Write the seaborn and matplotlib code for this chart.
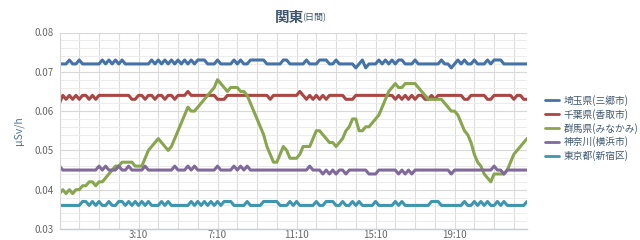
import numpy as np
import pandas as pd
import matplotlib
matplotlib.use("Agg")
import matplotlib.pyplot as plt
from matplotlib.ticker import MultipleLocator, FixedLocator
import seaborn as sns

series_names = ["埼玉県(三郷市)", "千葉県(香取市)", "群馬県(みなかみ)", "神奈川(横浜市)", "東京都(新宿区)"]
colors = ["#4572A7", "#AA4643", "#89A54E", "#80699B", "#3D96AE"]

saitama = [
    .072, .072, .072, .073, .072, .072, .073, .072, .072, .072, .072, .072,
    .072, .073, .072, .073, .072, .073, .072, .073, .072, .072, .072, .072,
    .072, .072, .072, .072, .073, .072, .073, .072, .073, .072, .073, .072,
    .073, .072, .073, .072, .073, .072, .073, .073, .073, .072, .072, .072,
    .073, .072, .072, .072, .072, .073, .072, .073, .072, .072, .073, .073,
    .073, .073, .073, .072, .072, .072, .072, .072, .073, .073, .072, .072,
    .072, .072, .072, .073, .072, .072, .072, .073, .073, .073, .072, .072,
    .073, .072, .072, .072, .072, .072, .071, .072, .073, .071, .072, .072,
    .072, .073, .072, .073, .072, .073, .072, .073, .073, .072, .072, .072,
    .073, .072, .072, .072, .072, .072, .072, .072, .073, .072, .072, .071,
    .072, .073, .072, .073, .072, .072, .073, .072, .072, .072, .073, .072,
    .073, .073, .073, .072, .072, .072, .072, .072, .072, .072, .072,
]
chiba = [
    .062, .064, .063, .064, .063, .064, .063, .064, .064, .063, .064, .063,
    .064, .064, .064, .064, .064, .064, .064, .064, .064, .064, .063, .063,
    .064, .064, .063, .064, .064, .063, .064, .064, .063, .064, .064, .063,
    .064, .064, .064, .065, .064, .064, .064, .064, .064, .064, .064, .064,
    .063, .063, .063, .064, .064, .064, .064, .064, .064, .064, .064, .064,
    .064, .064, .064, .064, .063, .064, .064, .064, .064, .064, .064, .064,
    .064, .065, .064, .063, .064, .063, .064, .063, .064, .063, .064, .064,
    .064, .064, .064, .063, .063, .063, .064, .064, .064, .064, .064, .064,
    .064, .064, .064, .064, .064, .064, .063, .064, .063, .064, .063, .064,
    .063, .064, .064, .063, .063, .064, .063, .064, .064, .064, .064, .064,
    .064, .064, .064, .063, .063, .064, .064, .064, .064, .064, .063, .063,
    .064, .064, .064, .064, .064, .064, .063, .064, .064, .063, .063,
]
gunma = [
    .039, .040, .039, .040, .039, .040, .040, .041, .041, .042, .042, .041,
    .042, .042, .043, .044, .045, .046, .046, .047, .047, .047, .047, .046,
    .046, .046, .048, .050, .051, .052, .053, .052, .051, .050, .051, .053,
    .055, .057, .059, .061, .060, .060, .061, .062, .063, .064, .065, .066,
    .068, .067, .066, .065, .066, .066, .066, .065, .065, .064, .062, .060,
    .058, .056, .054, .051, .049, .047, .047, .049, .051, .050, .048, .048,
    .048, .049, .051, .051, .051, .053, .055, .055, .054, .053, .052, .052,
    .051, .052, .053, .055, .056, .058, .058, .055, .055, .056, .056, .057,
    .058, .059, .061, .063, .065, .066, .067, .066, .066, .067, .067, .067,
    .067, .066, .065, .064, .063, .063, .063, .063, .063, .062, .061, .060,
    .060, .059, .057, .055, .054, .052, .049, .047, .046, .044, .043, .042,
    .044, .044, .044, .044, .045, .047, .049, .050, .051, .052, .053,
]
kanagawa = [
    .046, .045, .045, .045, .045, .045, .045, .045, .045, .045, .045, .045,
    .046, .045, .046, .045, .045, .045, .046, .045, .045, .046, .045, .045,
    .045, .045, .046, .045, .045, .045, .045, .045, .045, .045, .045, .046,
    .045, .045, .045, .046, .045, .046, .045, .045, .045, .045, .045, .045,
    .046, .045, .045, .045, .045, .046, .045, .046, .045, .046, .045, .045,
    .045, .045, .045, .045, .045, .045, .045, .045, .045, .045, .045, .045,
    .045, .045, .045, .045, .046, .045, .045, .045, .044, .045, .044, .045,
    .044, .045, .045, .044, .045, .045, .045, .045, .045, .045, .044, .044,
    .044, .045, .045, .045, .045, .045, .045, .044, .045, .044, .045, .044,
    .045, .045, .045, .045, .045, .045, .045, .045, .045, .045, .045, .044,
    .045, .045, .045, .045, .045, .045, .045, .045, .045, .045, .045, .045,
    .046, .045, .045, .044, .045, .045, .045, .045, .045, .045, .045,
]
tokyo = [
    .036, .036, .036, .036, .036, .036, .036, .037, .037, .036, .037, .036,
    .037, .036, .036, .037, .036, .036, .037, .037, .036, .037, .036, .037,
    .036, .037, .036, .037, .036, .036, .036, .037, .036, .037, .036, .036,
    .036, .036, .036, .036, .037, .036, .037, .036, .037, .036, .037, .036,
    .037, .036, .037, .037, .037, .036, .036, .036, .036, .037, .036, .036,
    .036, .036, .037, .037, .037, .037, .037, .036, .036, .036, .037, .036,
    .037, .036, .036, .036, .036, .036, .037, .036, .036, .037, .037, .037,
    .036, .036, .037, .036, .036, .037, .036, .037, .036, .036, .036, .036,
    .037, .036, .036, .036, .036, .036, .037, .036, .037, .036, .036, .036,
    .036, .036, .036, .036, .036, .037, .037, .037, .036, .036, .036, .036,
    .036, .036, .036, .037, .036, .036, .037, .036, .037, .036, .037, .036,
    .036, .037, .036, .037, .036, .036, .036, .036, .036, .036, .037,
]

tick_positions = [24, 48, 72, 96, 120]
tick_labels = ["3:10", "7:10", "11:10", "15:10", "19:10"]
y_ticks = [0.03, 0.04, 0.05, 0.06, 0.07, 0.08]

all_series = [saitama, chiba, gunma, kanagawa, tokyo]
frames = []
for name, vals in zip(series_names, all_series):
    frames.append(pd.DataFrame({"idx": np.arange(len(vals)), "value": vals, "area": name}))
df = pd.concat(frames, ignore_index=True)

sns.set_theme(style="white")
plt.rcParams["font.family"] = ["Noto Sans CJK JP", "DejaVu Sans"]

fig = plt.figure(figsize=(6.4, 2.4), dpi=100)
ax = fig.add_axes([59.5 / 640, 1 - 229 / 240, (527 - 59.5) / 640, (229 - 32.5) / 240])

sns.lineplot(data=df, x="idx", y="value", hue="area", hue_order=series_names,
             palette=colors, linewidth=2.2, ax=ax, legend=True)

n = len(saitama)
ax.set_xlim(0, n - 1)
ax.set_ylim(0.03, 0.08)
ax.set_yticks(y_ticks)
ax.set_yticklabels([f"{v:.2f}" for v in y_ticks])
ax.yaxis.set_minor_locator(MultipleLocator(0.002))
ax.set_xticks(tick_positions)
ax.set_xticklabels(tick_labels)
ax.xaxis.set_minor_locator(FixedLocator(list(range(0, n, 6))))

ax.grid(True, which="major", axis="y", color="#d8d8d8", linewidth=0.8)
ax.grid(True, which="minor", axis="y", color="#ececec", linewidth=0.7)
ax.grid(True, which="both", axis="x", color="#dcdcdc", linewidth=0.8)
ax.set_axisbelow(True)

ax.tick_params(axis="both", which="both", length=0, labelsize=7, colors="#666666", pad=4)
ax.tick_params(axis="x", pad=1)
for s in ["top", "right"]:
    ax.spines[s].set_visible(False)
ax.spines["left"].set_color("#d8d8d8")
ax.spines["left"].set_linewidth(0.8)
ax.spines["bottom"].set_color("#c0d0e0")
ax.spines["bottom"].set_linewidth(1.0)

ax.set_xlabel("")
ax.set_ylabel("μSv/h", color="#4d759e", fontsize=7.5, labelpad=8)

handles, labels = ax.get_legend_handles_labels()
leg = ax.legend(handles, labels, loc="upper left",
                bbox_to_anchor=(541 / 640, 1 - 91 / 240), bbox_transform=fig.transFigure,
                frameon=False, fontsize=7, handlelength=1.5, handletextpad=0.4,
                labelspacing=0.3, borderaxespad=0)
for t in leg.get_texts():
    t.set_color("#3E576F")
for h in leg.get_lines():
    h.set_linewidth(2)

fig.text(275 / 640, 1 - 17 / 240, "関東", fontsize=10.5, fontweight="bold",
         color="#3E576F", ha="left", va="center")
fig.text(302 / 640, 1 - 18 / 240, "(日間)", fontsize=6.5,
         color="#3E576F", ha="left", va="center")

fig.savefig("out.png", dpi=100)
